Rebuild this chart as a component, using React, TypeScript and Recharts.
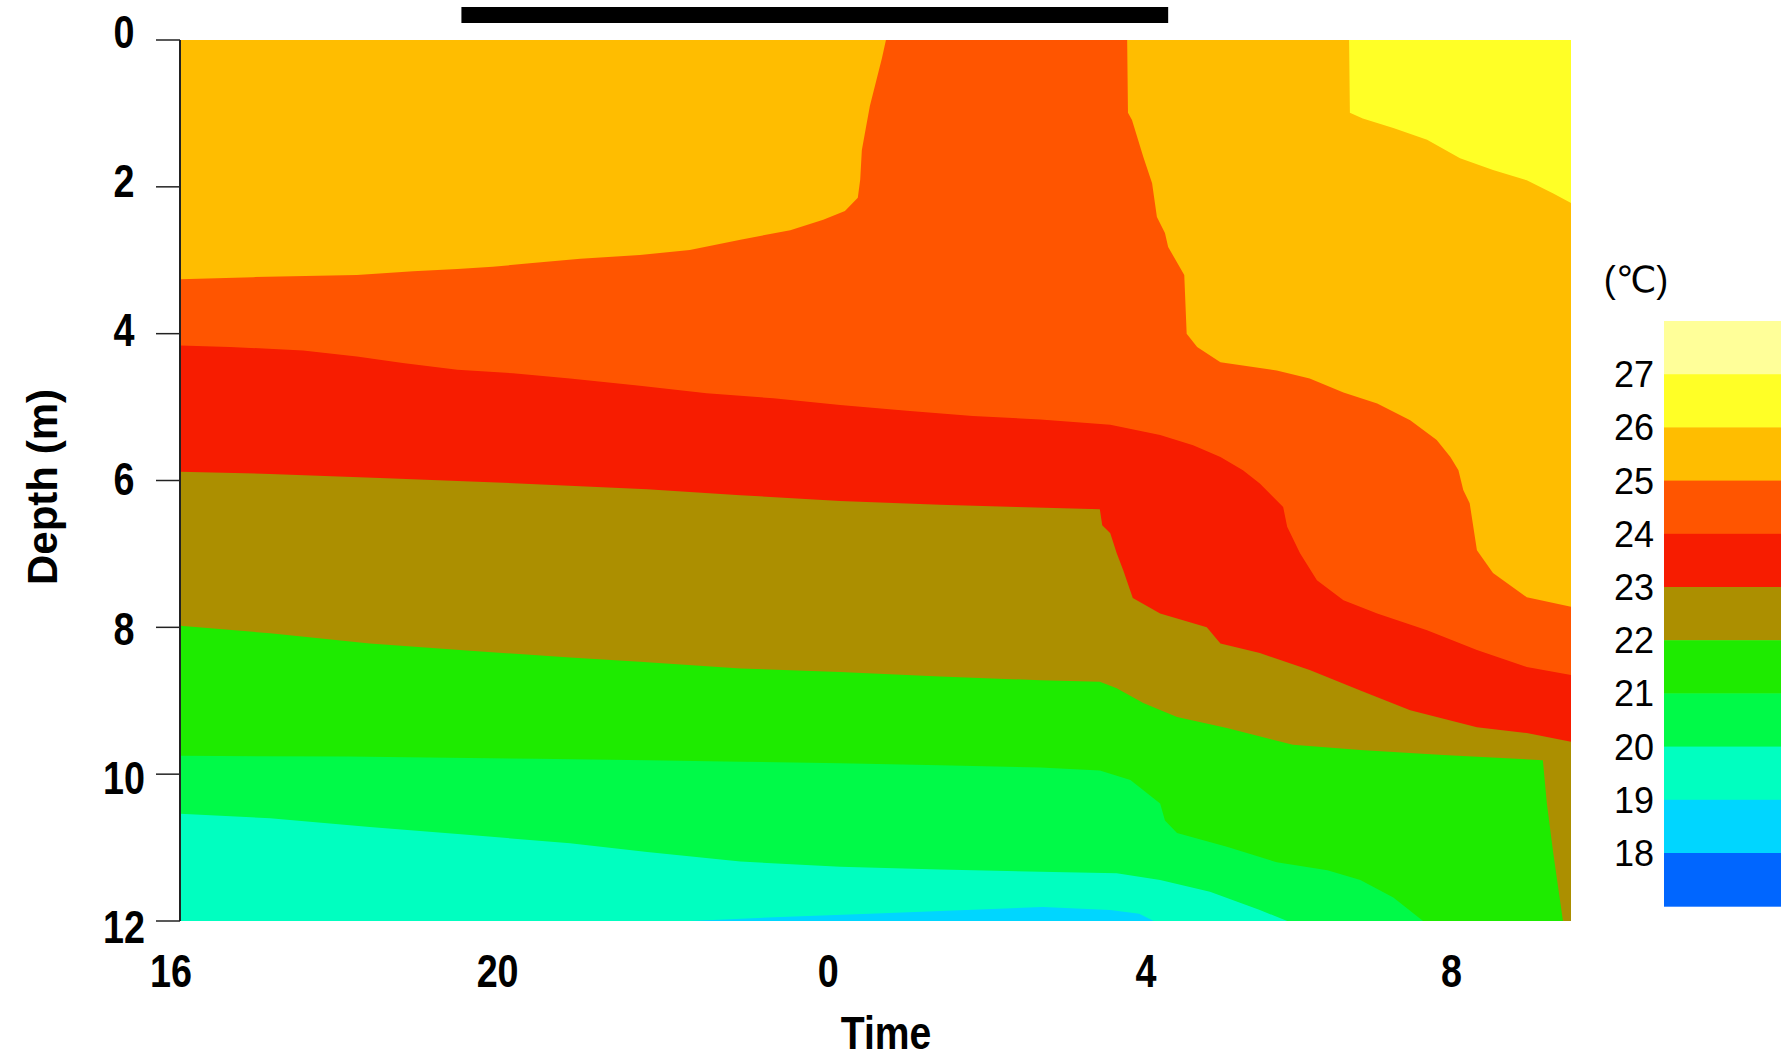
import React from 'react';
import { ComposedChart, Area, XAxis, YAxis, CartesianGrid, ReferenceArea } from 'recharts';

// Time axis: hours elapsed since 16:00
const timeTicks = [0, 4, 8, 12, 16];
const timeTickLabels = ['16', '20', '0', '4', '8'];
const timeMax = 17.3;
const depthTicks = [0, 2, 4, 6, 8, 10, 12];
const nightStart = 3.5;
const nightEnd = 12.29;

// Depth (m) of each isotherm vs time [hours since 16:00, depth]
const iso26: [number, number][] = [[0,0],[14.54,0],[14.55,0.99],[14.71,1.07],[15.09,1.2],[15.51,1.36],[15.92,1.61],[16.33,1.77],[16.75,1.91],[17.08,2.09],[17.3,2.22]];
const iso25: [number, number][] = [[0,3.26],[0.91,3.23],[2.2,3.2],[2.9,3.15],[3.45,3.12],[3.89,3.09],[4.35,3.04],[4.98,2.98],[5.72,2.93],[6.34,2.86],[6.97,2.72],[7.59,2.59],[8.0,2.45],[8.27,2.33],[8.43,2.15],[8.46,1.9],[8.48,1.5],[8.53,1.2],[8.58,0.9],[8.66,0.55],[8.73,0.25],[8.78,0],[11.78,0],[11.79,0.99],[11.84,1.09],[11.98,1.59],[12.09,1.95],[12.15,2.41],[12.25,2.63],[12.29,2.82],[12.49,3.2],[12.52,4.0],[12.65,4.18],[12.94,4.39],[13.64,4.5],[14.05,4.61],[14.47,4.8],[14.89,4.95],[15.3,5.18],[15.63,5.45],[15.8,5.68],[15.9,5.86],[15.96,6.13],[16.04,6.31],[16.13,6.95],[16.33,7.26],[16.75,7.59],[17.3,7.72]];
const iso24: [number, number][] = [[0,4.16],[0.62,4.18],[1.53,4.23],[2.2,4.31],[2.77,4.4],[3.45,4.49],[4.14,4.54],[4.85,4.61],[5.72,4.71],[6.55,4.81],[7.38,4.88],[8.21,4.97],[9.04,5.05],[9.86,5.12],[10.7,5.17],[11.57,5.24],[12.19,5.38],[12.6,5.52],[12.94,5.68],[13.22,5.86],[13.43,6.04],[13.72,6.36],[13.77,6.63],[13.93,6.99],[14.14,7.36],[14.47,7.63],[14.89,7.81],[15.51,8.04],[16.13,8.31],[16.75,8.54],[17.3,8.65]];
const iso23: [number, number][] = [[0,5.88],[1.12,5.91],[2.57,5.97],[4.02,6.03],[5.81,6.12],[6.97,6.2],[8.21,6.28],[9.45,6.33],[10.41,6.36],[11.44,6.39],[11.47,6.61],[11.57,6.72],[11.65,6.99],[11.73,7.22],[11.85,7.6],[12.19,7.81],[12.77,8.0],[12.94,8.22],[13.43,8.35],[14.05,8.58],[14.68,8.86],[15.3,9.13],[16.13,9.36],[16.75,9.44],[17.3,9.56]];
const iso22: [number, number][] = [[0,7.98],[1.12,8.08],[2.36,8.22],[3.61,8.32],[4.85,8.41],[5.72,8.47],[6.97,8.56],[8.21,8.61],[9.45,8.67],[10.7,8.72],[11.44,8.74],[11.65,8.83],[11.98,9.03],[12.4,9.22],[13.02,9.37],[13.84,9.6],[14.68,9.67],[15.71,9.74],[16.95,9.81],[17.0,10.4],[17.08,11.08],[17.2,12],[17.3,12]];
const iso21: [number, number][] = [[0,9.75],[2.08,9.76],[4.44,9.79],[5.81,9.81],[6.97,9.83],[8.21,9.85],[9.45,9.88],[10.7,9.91],[11.44,9.95],[11.82,10.08],[12.19,10.4],[12.25,10.63],[12.4,10.8],[13.02,10.99],[13.64,11.2],[14.27,11.31],[14.68,11.44],[15.09,11.68],[15.46,12],[17.3,12]];
const iso20: [number, number][] = [[0,10.54],[1.12,10.6],[2.36,10.72],[3.61,10.83],[4.85,10.94],[5.81,11.06],[6.97,11.19],[8.21,11.26],[9.45,11.3],[10.7,11.33],[11.65,11.35],[12.19,11.44],[12.81,11.6],[13.43,11.85],[13.77,12],[17.3,12]];
const iso19: [number, number][] = [[0,12],[6.34,12],[7.39,11.95],[8.58,11.9],[9.54,11.86],[10.73,11.81],[11.57,11.85],[11.93,11.9],[12.11,12],[17.3,12]];

// Legend: colour bands from warmest (top) to coldest, and the level labels between them
const bandColors = ['#FFFF99', '#FFFF26', '#FFBD00', '#FF5500', '#F71C00', '#AC8F00', '#1EEB00', '#00FA48', '#00FFC0', '#00D6FF', '#0066FF'];
const legendLevels = [27, 26, 25, 24, 23, 22, 21, 20, 19, 18];

// isotherm series painted top-down; each fills from its line to the bottom (12 m)
const isoSeries = [
  { name: 'iso26', pts: iso26, color: bandColors[2] },
  { name: 'iso25', pts: iso25, color: bandColors[3] },
  { name: 'iso24', pts: iso24, color: bandColors[4] },
  { name: 'iso23', pts: iso23, color: bandColors[5] },
  { name: 'iso22', pts: iso22, color: bandColors[6] },
  { name: 'iso21', pts: iso21, color: bandColors[7] },
  { name: 'iso20', pts: iso20, color: bandColors[8] },
  { name: 'iso19', pts: iso19, color: bandColors[9] },
];

const FONT = '"Liberation Sans", Arial, Helvetica, sans-serif';
// small horizontal nudges of the time labels (style only), as placed in the original figure
const timeLabelNudge = [-9, -4, 5, 1, -15];

const XTick = (props: any) => {
  const { x, y, payload } = props;
  const idx = timeTicks.indexOf(payload.value);
  const nudge = idx >= 0 ? timeLabelNudge[idx] : 0;
  return (
    <text
      transform={`translate(${x + nudge},${y + 66}) scale(0.82,1)`}
      textAnchor="middle"
      fontFamily={FONT}
      fontWeight="bold"
      fontSize={46}
      fill="#000"
    >
      {idx >= 0 ? timeTickLabels[idx] : ''}
    </text>
  );
};

const YTick = (props: any) => {
  const { x, y, payload } = props;
  const dy = (payload.value - 7) * 1.2;
  return (
    <text
      transform={`translate(${x - 30},${y + 16 + dy}) scale(0.82,1)`}
      textAnchor="middle"
      fontFamily={FONT}
      fontWeight="bold"
      fontSize={46}
      fill="#000"
    >
      {payload.value}
    </text>
  );
};

export default function App() {
  const W = 1788;
  const H = 1060;
  const legendX = 1664;
  const legendTop = 321;
  const bandH = 53.2;
  return (
    <div style={{ position: 'absolute', left: 0, top: 0, width: W, height: H, background: '#fff' }}>
      <ComposedChart width={W} height={H} margin={{ top: 40, right: 217, bottom: 0, left: 0 }}>
        <CartesianGrid horizontal={false} vertical={false} fill={bandColors[1]} fillOpacity={1} stroke="none" />
        <XAxis
          type="number"
          dataKey="t"
          domain={[0, timeMax]}
          ticks={timeTicks}
          allowDataOverflow
          axisLine={false}
          tickLine={false}
          tickSize={0}
          tickMargin={0}
          height={139}
          tick={<XTick />}
          interval={0}
        />
        <YAxis
          type="number"
          dataKey="d"
          domain={[0, 12]}
          reversed
          ticks={depthTicks}
          allowDataOverflow
          width={180}
          axisLine={{ stroke: '#222', strokeWidth: 2 }}
          tickLine={{ stroke: '#222', strokeWidth: 1.5 }}
          tickSize={24}
          tickMargin={2}
          tick={<YTick />}
          interval={0}
        />
        {isoSeries.map((s) => (
          <Area
            key={s.name}
            name={s.name}
            data={s.pts.map(([t, d]) => ({ t, d }))}
            dataKey="d"
            type="linear"
            baseValue={12}
            stroke="none"
            fill={s.color}
            fillOpacity={1}
            isAnimationActive={false}
            dot={false}
            activeDot={false}
          />
        ))}
        <ReferenceArea
          x1={nightStart}
          x2={nightEnd}
          y1={-0.45}
          y2={-0.232}
          fill="#000"
          fillOpacity={1}
          stroke="none"
          ifOverflow="visible"
        />
      </ComposedChart>
      <svg width={W} height={H} style={{ position: 'absolute', left: 0, top: 0, pointerEvents: 'none' }}>
        <text
          transform="translate(57,487) rotate(-90)"
          textAnchor="middle"
          fontFamily={FONT}
          fontWeight="bold"
          fontSize={42}
          fill="#000"
        >
          Depth (m)
        </text>
        <text
          transform="translate(886,1049) scale(0.85,1)"
          textAnchor="middle"
          fontFamily={FONT}
          fontWeight="bold"
          fontSize={46}
          fill="#000"
        >
          Time
        </text>
        <text x={1636} y={292} textAnchor="middle" fontFamily={`${FONT}, "DejaVu Sans", "Noto Sans CJK JP"`} fontSize={36} fill="#000">
          (℃)
        </text>
        {bandColors.map((c, i) => (
          <rect key={c} x={legendX} y={legendTop + i * bandH} width={117} height={bandH + 0.5} fill={c} />
        ))}
        {legendLevels.map((lv, i) => (
          <text
            key={lv}
            x={1654}
            y={legendTop + (i + 1) * bandH + 13}
            textAnchor="end"
            fontFamily={FONT}
            fontSize={36}
            fill="#000"
          >
            {lv}
          </text>
        ))}
      </svg>
    </div>
  );
}
